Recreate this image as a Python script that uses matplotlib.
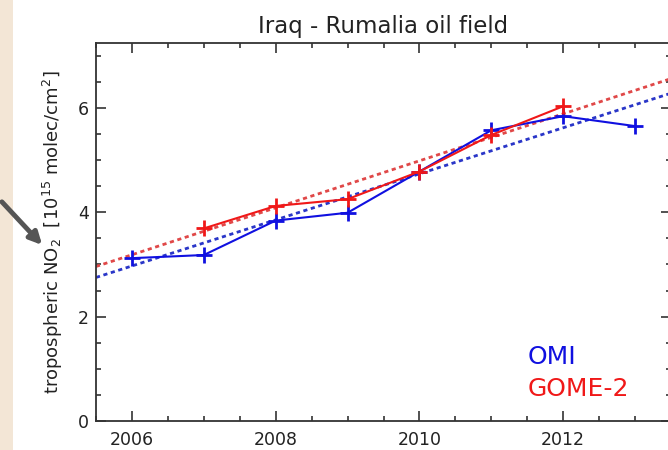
import matplotlib
matplotlib.use('Agg')
import matplotlib.pyplot as plt
from matplotlib.patches import Rectangle, FancyArrowPatch
from matplotlib.ticker import MultipleLocator

# values
omi_years = [2006, 2007, 2008, 2009, 2010, 2011, 2012, 2013]
omi_no2 = [3.12, 3.18, 3.84, 3.99, 4.78, 5.57, 5.84, 5.65]

gome_years = [2007, 2008, 2009, 2010, 2011, 2012]
gome_no2 = [3.69, 4.12, 4.25, 4.78, 5.48, 6.03]

trend_years = [2005.5, 2013.5]
omi_trend = [2.75, 6.28]
gome_trend = [2.96, 6.56]

blue = '#1010e0'
red = '#f01818'

fig = plt.figure(figsize=(6.68, 4.5), dpi=100)

# slide background strip at the left edge
fig.patches.append(Rectangle((0, 0), 0.02, 1, transform=fig.transFigure,
                             facecolor='#f3e6d6', edgecolor='none', zorder=-1))

ax = fig.add_axes([96/668, 29/450, 575/668, 378.4/450])

ax.plot(trend_years, omi_trend, color='#2a36c8', lw=2.0, dashes=(1.5, 1.3), zorder=2)
ax.plot(trend_years, gome_trend, color='#e04848', lw=2.0, dashes=(1.5, 1.3), zorder=2)

ax.plot(omi_years, omi_no2, color=blue, lw=1.5, marker='+', ms=11, mew=2.0, zorder=3)
ax.plot(gome_years, gome_no2, color=red, lw=1.5, marker='+', ms=11, mew=2.0, zorder=4)

ax.set_xlim(2005.5, 2013.5)
ax.set_ylim(0, 7.25)
ax.set_xticks([2006, 2008, 2010, 2012])
ax.set_yticks([0, 2, 4, 6])
ax.xaxis.set_minor_locator(MultipleLocator(0.5))
ax.yaxis.set_minor_locator(MultipleLocator(0.5))
ax.tick_params(which='both', direction='in', top=True, right=True,
               color='#333333', width=1.2, labelsize=12.5, labelcolor='#222222')
ax.tick_params(which='major', length=7)
ax.tick_params(which='minor', length=3.5)
ax.tick_params(axis='x', pad=7)
ax.tick_params(axis='y', pad=5)
for sp in ax.spines.values():
    sp.set_color('#333333')
    sp.set_linewidth(1.3)

ax.set_title('Iraq - Rumalia oil field', fontsize=16.5, color='#222222', pad=7)
ax.set_ylabel(r'tropospheric NO$_2$  [10$^{15}$ molec/cm$^2$]',
              fontsize=13, color='#222222', labelpad=9)

ax.text(0.75, 0.17, 'OMI', color=blue, fontsize=18, transform=ax.transAxes,
        ha='left', va='center')
ax.text(0.75, 0.085, 'GOME-2', color=red, fontsize=18, transform=ax.transAxes,
        ha='left', va='center')

# the arrow from the slide that points at the axis label
arrow = FancyArrowPatch((0.0, 0.556), (0.066, 0.451), transform=fig.transFigure,
                        arrowstyle='-|>', mutation_scale=18, lw=3.5,
                        color='#555555', zorder=5)
fig.patches.append(arrow)

fig.savefig('out.png', dpi=100)
